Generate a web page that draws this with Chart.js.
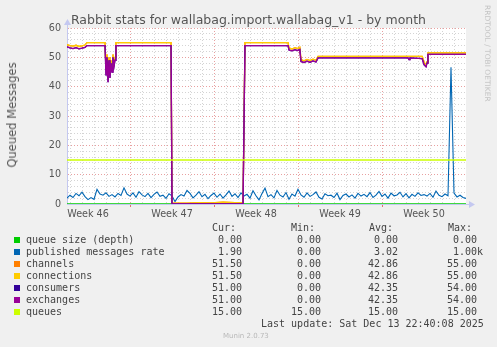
<!DOCTYPE html>
<html><head><meta charset="utf-8">
<script src="https://cdn.jsdelivr.net/npm/chart.js@4/dist/chart.umd.min.js"></script>
<style>
html,body{margin:0;padding:0;background:#f0f0f0;}
#wrap{position:relative;width:497px;height:347px;overflow:hidden;background:#f0f0f0;}
canvas{position:absolute;left:0;top:0;}
.t{position:absolute;white-space:pre;}
.mono{font-family:"DejaVu Sans Mono",monospace;font-size:10px;line-height:12px;color:#444;}
.sq{position:absolute;width:6px;height:6px;}
</style></head><body>
<div id="wrap"><canvas id="c" width="497" height="347"></canvas></div>
<script>
// ---- data ----
const titleText = "Rabbit stats for wallabag.import.wallabag_v1 - by month";
const yTitle = "Queued Messages";
const weekLabels = ["Week 46", "Week 47", "Week 48", "Week 49", "Week 50"];
const weekCenters = [1.75, 8.75, 15.75, 22.75, 29.75]; // days from left edge
const sampleStepDays = 0.25;

const seriesNames = ["queue size (depth)", "published messages rate", "channels", "connections", "consumers", "exchanges", "queues"];
const seriesColors = ["#00cc00", "#0066b3", "#ff8000", "#ffcc00", "#330099", "#990099", "#ccff00"];
const curValues = ["0.00", "1.90", "51.50", "51.50", "51.00", "51.00", "15.00"];
const minValues = ["0.00", "0.00", "0.00", "0.00", "0.00", "0.00", "15.00"];
const avgValues = ["0.00", "3.02", "42.86", "42.86", "42.35", "42.35", "15.00"];
const maxValues = ["0.00", "1.00k", "55.00", "55.00", "54.00", "54.00", "15.00"];

// published messages rate, one value every 6 hours
const publishedValues = [
  2.0,3.0,2.2,3.6,2.8,4.0,2.5,1.5,2.2,1.6,5.0,3.4,3.0,3.8,2.6,3.2,2.4,3.6,2.9,5.5,
  3.4,2.7,3.8,2.3,4.2,3.1,2.5,3.6,2.2,3.3,4.1,2.6,3.0,1.9,3.5,2.8,0.8,2.4,3.2,2.7,
  4.6,3.6,2.1,3.0,4.2,2.5,3.3,1.8,2.9,3.7,2.3,3.4,2.0,3.1,4.4,2.6,3.5,2.2,3.8,2.7,
  3.3,2.0,4.5,2.8,1.4,3.6,5.4,2.5,3.2,2.1,4.6,3.0,2.4,3.9,1.6,3.4,2.7,5.0,3.1,2.3,
  3.8,2.6,3.2,4.1,2.3,1.7,3.5,2.8,3.0,2.2,3.7,1.5,2.9,3.4,2.4,3.1,2.0,3.6,2.7,3.3,
  2.5,3.9,2.2,3.0,4.3,2.6,3.4,2.0,3.7,2.8,3.1,4.0,2.4,3.5,2.1,3.3,2.6,3.8,2.9,3.2,
  2.7,3.6,2.3,4.4,3.0,2.5,3.4,2.8,46.6,3.7,2.4,3.0,2.2,1.9
];

// channels / connections (day, value)
const channelDays = [0,0.25,0.5,0.75,1.0,1.25,1.5,1.67,3.17,3.25,3.33,3.42,3.5,3.58,3.67,3.75,3.83,3.92,4.0,4.08,8.67,8.75,10,11,12,13,14,14.67,14.83,18.42,18.5,18.75,19.0,19.2,19.4,19.5,19.75,20.0,20.25,20.5,20.75,20.92,29.6,29.75,29.92,30.0,30.08,33.25];
const channelValues = [54.3,54.0,53.8,54.1,53.7,53.9,54.2,55,55,46,51,42.5,50,44.5,49,46,51,48,50,55,55,0.4,0.3,0.5,0.4,0.6,0.5,0.4,55,55,53.2,52.8,53.3,53.0,53.4,49.2,48.8,49.3,48.9,49.4,49.0,50.3,50.3,48.5,47.2,48.5,51.5,51.5];
const connectionValues = channelValues.slice();

// consumers / exchanges (day, value)
const exchangeDays = [0,0.25,0.5,0.75,1.0,1.25,1.5,1.67,3.17,3.25,3.33,3.42,3.5,3.58,3.67,3.75,3.83,3.92,4.0,4.08,8.67,8.75,14.67,14.83,18.42,18.5,18.75,19.0,19.2,19.4,19.5,19.75,20.0,20.25,20.5,20.75,20.92,28.42,28.5,28.58,29.6,29.75,29.92,30.0,30.08,33.25];
const exchangeValues = [53.6,53.2,53.0,53.3,52.9,53.1,53.4,54,54,44,50,41.5,49,43,48,45,50,47,49,54,54,0,0,54,54,52.5,52.2,52.6,52.3,52.7,48.6,48.2,48.7,48.3,48.8,48.4,49.8,49.8,49.2,49.8,49.6,47.5,46.8,48,51,51];
const consumerValues = exchangeValues.slice();

const queueSizeDays = [0, 33.25];
const queueSizeValues = [0, 0];
const queuesValues = [15, 15];

const xMax = 33.25;
const weekStart = 5.25;
const gridDays = [];
for (let d = 0.25; d < xMax - 0.5; d += 1) gridDays.push(d);
const yGrid = [];
for (let v = 0; v <= 60; v += 2) yGrid.push(v);

// ---- build ----
const pts = (xs, ys) => xs.map((x, i) => ({x, y: ys[i]}));
const publishedPts = publishedValues.map((v, i) => ({x: i * sampleStepDays, y: v}));
const isWeek = v => Math.abs((((v - weekStart) % 7) + 7) % 7) < 0.01;

const seriesData = [
  pts(queueSizeDays, queueSizeValues),
  publishedPts,
  pts(channelDays, channelValues),
  pts(channelDays, connectionValues),
  pts(exchangeDays, consumerValues),
  pts(exchangeDays, exchangeValues),
  pts(queueSizeDays, queuesValues)
];

const datasets = seriesNames.map((n, i) => ({
  label: n, data: seriesData[i], borderColor: seriesColors[i], backgroundColor: seriesColors[i],
  borderWidth: (i === 1) ? 1.1 : 1.3, pointRadius: 0, tension: 0, fill: false, order: 10 - i
}));

const decor = {
  id: 'decor',
  beforeDraw(chart) {
    const {ctx, chartArea: a} = chart;
    ctx.save(); ctx.fillStyle = '#ffffff';
    ctx.fillRect(a.left, a.top, a.right - a.left, a.bottom - a.top);
    ctx.restore();
  },
  afterDraw(chart) {
    const {ctx, chartArea: a} = chart;
    ctx.save();
    ctx.strokeStyle = '#c4c8f0'; ctx.fillStyle = '#c4c8f0'; ctx.lineWidth = 1;
    ctx.beginPath(); ctx.moveTo(a.left + 0.5, a.top); ctx.lineTo(a.left + 0.5, a.top - 4); ctx.stroke();
    ctx.beginPath(); ctx.moveTo(a.right, a.bottom + 0.5); ctx.lineTo(a.right + 4, a.bottom + 0.5); ctx.stroke();
    ctx.beginPath(); ctx.moveTo(a.left - 3, a.top - 3); ctx.lineTo(a.left + 4, a.top - 3); ctx.lineTo(a.left + 0.5, a.top - 9); ctx.closePath(); ctx.fill();
    ctx.beginPath(); ctx.moveTo(a.right + 3, a.bottom - 3); ctx.lineTo(a.right + 3, a.bottom + 4); ctx.lineTo(a.right + 9, a.bottom + 0.5); ctx.closePath(); ctx.fill();
    ctx.restore();
  }
};

new Chart(document.getElementById('c'), {
  type: 'line',
  data: {datasets},
  options: {
    responsive: false, animation: false, devicePixelRatio: 1,
    layout: {padding: {left: 37, right: 31, top: 28, bottom: 123}},
    plugins: {legend: {display: false}, title: {display: false}, tooltip: {enabled: false}},
    scales: {
      x: {
        type: 'linear', min: 0, max: xMax, position: 'bottom',
        afterBuildTicks: s => { s.ticks = gridDays.map(v => ({value: v})); },
        afterFit: s => { s.height = 0; },
        ticks: {display: false},
        grid: {
          color: c => isWeek(c.tick.value) ? '#e8a0a0' : '#d4d4d4',
          lineWidth: 1, drawTicks: true, tickLength: 3,
          tickColor: c => isWeek(c.tick.value) ? '#e07070' : 'rgba(0,0,0,0)'
        },
        border: {display: true, color: '#c4c8f0', dash: [1, 2]}
      },
      x2: {
        type: 'linear', min: 0, max: xMax, position: 'bottom',
        afterBuildTicks: s => { s.ticks = weekCenters.map(v => ({value: v})); },
        afterFit: s => { s.height = 20; },
        ticks: {callback: (v, i) => weekLabels[i], color: '#555', font: {family: 'DejaVu Sans', size: 9.6}, padding: 5, maxRotation: 0, autoSkip: false},
        grid: {display: false, drawTicks: false},
        border: {display: false}
      },
      y: {
        min: 0, max: 60,
        afterBuildTicks: s => { s.ticks = yGrid.map(v => ({value: v})); },
        afterFit: s => { s.width = 30; },
        ticks: {callback: v => (v % 10 === 0 ? String(v) : ''), color: '#555', font: {family: 'DejaVu Sans', size: 9.6}, padding: 6, autoSkip: false},
        grid: {color: c => (c.tick.value % 10 === 0 ? '#e8a0a0' : '#d4d4d4'), drawTicks: false},
        border: {display: true, color: '#c4c8f0', dash: [1, 2]}
      }
    }
  },
  plugins: [decor]
});

// ---- texts ----
const wrap = document.getElementById('wrap');
function addText(txt, css, cls) {
  const d = document.createElement('div');
  d.className = 't' + (cls ? ' ' + cls : '');
  d.textContent = txt;
  d.style.cssText += css;
  wrap.appendChild(d);
  return d;
}
addText(titleText, 'left:0;width:497px;text-align:center;top:12px;font:12.5px "DejaVu Sans";line-height:16px;color:#555;');
addText(yTitle, 'left:12px;top:115px;font:11.5px "DejaVu Sans";line-height:14px;color:#555;transform:translate(-50%,-50%) rotate(-90deg);');
addText("RRDTOOL / TOBI OETIKER", 'left:487px;top:5px;font:7.5px "DejaVu Sans";line-height:9px;color:#c4c4c4;transform-origin:0 0;transform:translate(5px,0) rotate(90deg);');

const headers = ["Cur:", "Min:", "Avg:", "Max:"];
const headerRights = [236, 315, 393, 472];
const colRights = [248, 327, 404, 483];
headers.forEach((h, i) => addText(h, `right:${497 - headerRights[i]}px;top:222px;`, 'mono'));
const cols = [curValues, minValues, avgValues, maxValues];
seriesNames.forEach((n, r) => {
  const cy = 240 + r * 11.95;
  const sq = document.createElement('div');
  sq.className = 'sq';
  sq.style.left = '14px'; sq.style.top = Math.round(cy - 3) + 'px'; sq.style.background = seriesColors[r];
  wrap.appendChild(sq);
  addText(n, `left:26px;top:${cy - 6}px;`, 'mono');
  cols.forEach((col, c) => {
    const s = /\d$/.test(col[r]) ? col[r] + ' ' : col[r];
    addText(s, `right:${497 - colRights[c]}px;top:${cy - 6}px;`, 'mono');
  });
});
addText("Last update: Sat Dec 13 22:40:08 2025", 'left:261px;top:318px;', 'mono');
addText("Munin 2.0.73", 'left:223px;top:331px;font:7px "DejaVu Sans";line-height:10px;color:#b8b8b8;');
</script>
</body></html>
